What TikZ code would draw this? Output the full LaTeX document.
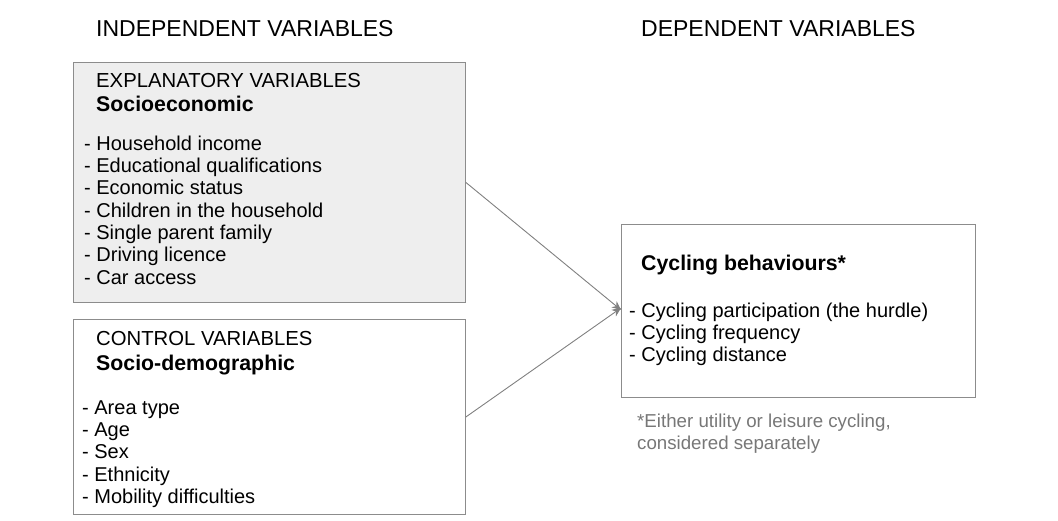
\documentclass[tikz,border=0pt]{standalone}
\usepackage{fontspec}
\setmainfont{Liberation Sans}
\usetikzlibrary{arrows.meta}
\definecolor{boxline}{HTML}{8C8C8C}
\definecolor{boxfill}{HTML}{EEEEEE}
\definecolor{arrowc}{HTML}{808080}
\definecolor{notec}{HTML}{777777}
\newcommand{\hd}[1]{{\fontsize{21.3}{24}\selectfont\bfseries #1}}
\begin{document}
\begin{tikzpicture}[x=1pt,y=-1pt,
  box/.style={draw=boxline,line width=0.9pt,inner sep=0pt,anchor=north west},
  txt/.style={anchor=base west,align=left,inner sep=0pt,font=\fontsize{20}{22.35}\selectfont},
  ttl/.style={anchor=base west,inner sep=0pt,font=\fontsize{23}{26}\selectfont},
  conn/.style={draw=arrowc,line width=0.9pt,-{Stealth[length=9pt,width=8pt]}}]
\useasboundingbox (0,0) rectangle (1058,520);
\node[ttl] (tind) at (96,36) {INDEPENDENT VARIABLES};
\node[ttl] (tdep) at (641,36) {DEPENDENT VARIABLES};
% box 1
\node[box,fill=boxfill,minimum width=392pt,minimum height=240pt] (b1) at (73,62) {};
\node[txt,font=\fontsize{20.3}{24}\selectfont] (h1) at (96,111) {EXPLANATORY VARIABLES\\\hd{Socioeconomic}};
\node[txt] (l1) at (84,284.1) {- Household income\\- Educational qualifications\\- Economic status\\- Children in the household\\- Single parent family\\- Driving licence\\- Car access};
% box 2
\node[box,minimum width=392pt,minimum height=195pt] (b2) at (73,319) {};
\node[txt,font=\fontsize{20.3}{25}\selectfont] (h2) at (96,370) {CONTROL VARIABLES\\\hd{Socio-demographic}};
\node[txt] (l2) at (82,503.4) {- Area type\\- Age\\- Sex\\- Ethnicity\\- Mobility difficulties};
% box 3
\node[box,minimum width=354pt,minimum height=173pt] (b3) at (621,224) {};
\node[txt] (h3) at (641,270) {\hd{Cycling behaviours*}};
\node[txt] (l3) at (629,361.7) {- Cycling participation (the hurdle)\\- Cycling frequency\\- Cycling distance};
\node[txt,text=notec,font=\fontsize{18.7}{22}\selectfont] (note) at (637,449) {*Either utility or leisure cycling,\\considered separately};
% connectors
\draw[conn] (b1.east) -- ([yshift=1pt]b3.west);
\draw[conn] (b2.east) -- ([yshift=3pt]b3.west);
\end{tikzpicture}
\end{document}
